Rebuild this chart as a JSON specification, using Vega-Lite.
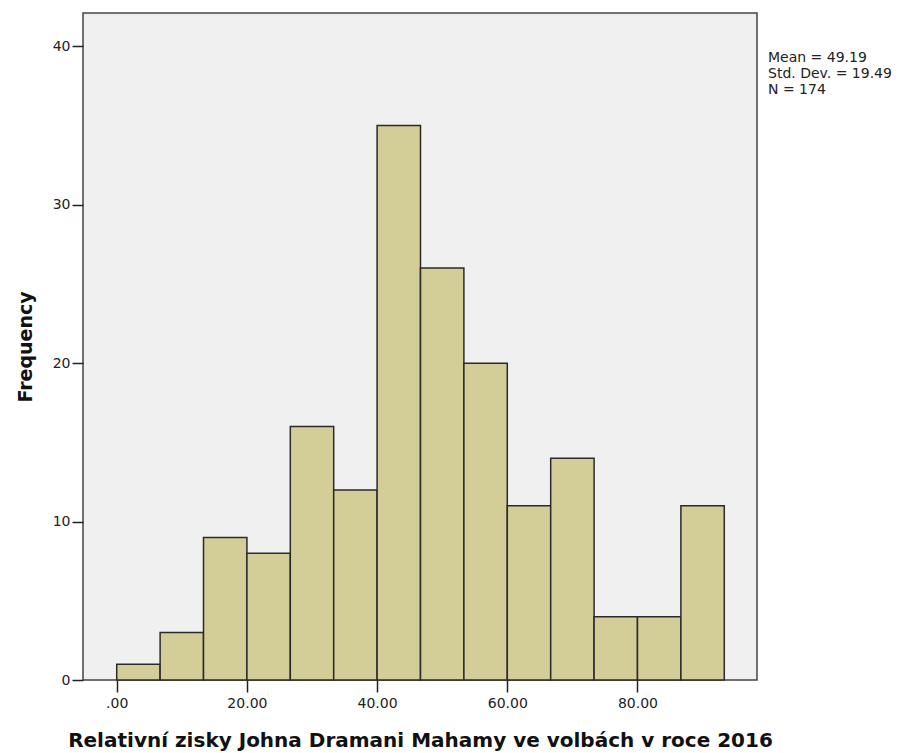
{
  "$schema": "https://vega.github.io/schema/vega-lite/v6.json",
  "autosize": "none",
  "width": 674,
  "height": 667,
  "padding": {"left": 83, "top": 13, "right": 151, "bottom": 73},
  "background": "white",
  "config": {
    "view": {"fill": "#f0f0f0", "stroke": "#444444", "strokeWidth": 1.5},
    "axis": {"labelFont": "DejaVu Sans", "labelFontSize": 14, "labelColor": "#222222", "titleFont": "DejaVu Sans", "titleFontWeight": "bold", "titleColor": "#111111", "tickColor": "#222222", "tickWidth": 1.5, "domain": false, "grid": false}
  },
  "layer": [
    {
      "data": {"values": [
        {"lo": 0.0, "hi": 6.667, "count": 1},
        {"lo": 6.667, "hi": 13.333, "count": 3},
        {"lo": 13.333, "hi": 20.0, "count": 9},
        {"lo": 20.0, "hi": 26.667, "count": 8},
        {"lo": 26.667, "hi": 33.333, "count": 16},
        {"lo": 33.333, "hi": 40.0, "count": 12},
        {"lo": 40.0, "hi": 46.667, "count": 35},
        {"lo": 46.667, "hi": 53.333, "count": 26},
        {"lo": 53.333, "hi": 60.0, "count": 20},
        {"lo": 60.0, "hi": 66.667, "count": 11},
        {"lo": 66.667, "hi": 73.333, "count": 14},
        {"lo": 73.333, "hi": 80.0, "count": 4},
        {"lo": 80.0, "hi": 86.667, "count": 4},
        {"lo": 86.667, "hi": 93.333, "count": 11}
      ]},
      "mark": {"type": "rect", "fill": "#d3ce98", "stroke": "#2a2a2a", "strokeWidth": 1.5},
      "encoding": {
        "x": {"field": "lo", "type": "quantitative",
          "scale": {"domain": [-5.18, 98.36], "nice": false, "zero": false},
          "axis": {"values": [0, 20, 40, 60, 80], "labelExpr": "datum.value == 0 ? '.00' : format(datum.value, '.2f')", "title": "Relativní zisky Johna Dramani Mahamy ve volbách v roce 2016", "titleFontSize": 20, "titlePadding": 20, "tickSize": 12, "labelPadding": 4}},
        "x2": {"field": "hi"},
        "y": {"field": "count", "type": "quantitative",
          "scale": {"domain": [0, 42.1], "nice": false},
          "axis": {"values": [0, 10, 20, 30, 40], "title": "Frequency", "titleFontSize": 19, "titlePadding": 17, "tickSize": 11, "labelPadding": 2}},
        "y2": {"datum": 0}
      }
    },
    {
      "data": {"values": [
        {"label": "Mean = 49.19", "px": 100.05, "py": 39.27},
        {"label": "Std. Dev. = 19.49", "px": 100.05, "py": 38.26},
        {"label": "N = 174", "px": 100.05, "py": 37.25}
      ]},
      "mark": {"type": "text", "align": "left", "baseline": "middle", "font": "DejaVu Sans", "fontSize": 14, "color": "#222222", "clip": false},
      "encoding": {
        "x": {"field": "px", "type": "quantitative"},
        "y": {"field": "py", "type": "quantitative"},
        "text": {"field": "label"}
      }
    }
  ]
}
